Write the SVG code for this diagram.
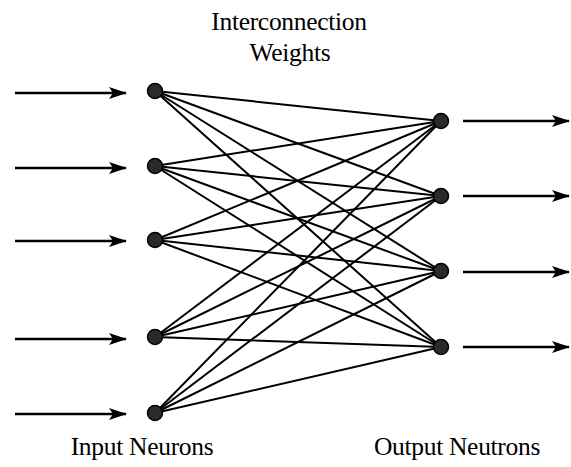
<svg xmlns="http://www.w3.org/2000/svg" width="571" height="467" viewBox="0 0 571 467">
<defs>
<style>
.lbl{font-family:"Liberation Serif","Times New Roman",serif;font-size:25.5px;fill:#000;letter-spacing:-0.3px}
.w{stroke:#000;stroke-width:2;fill:none}
.arr{stroke:#000;stroke-width:2.4;fill:none}
.n{fill:#2a2a2a;stroke:#000;stroke-width:1.5}
</style>
<marker id="ah" markerWidth="18" markerHeight="12" refX="17" refY="6" orient="auto" markerUnits="userSpaceOnUse">
<path d="M0,0 L18,6 L0,12 L4,6 Z" fill="#000"/>
</marker>
</defs>
<rect width="571" height="467" fill="#fff"/>
<g id="connectors">
<g class="w">
<line x1="155" y1="91" x2="441" y2="121"/><line x1="155" y1="91" x2="441" y2="196"/><line x1="155" y1="91" x2="441" y2="271"/><line x1="155" y1="91" x2="441" y2="347"/>
<line x1="155" y1="166" x2="441" y2="121"/><line x1="155" y1="166" x2="441" y2="196"/><line x1="155" y1="166" x2="441" y2="271"/><line x1="155" y1="166" x2="441" y2="347"/>
<line x1="155" y1="240" x2="441" y2="121"/><line x1="155" y1="240" x2="441" y2="196"/><line x1="155" y1="240" x2="441" y2="271"/><line x1="155" y1="240" x2="441" y2="347"/>
<line x1="155" y1="337" x2="441" y2="121"/><line x1="155" y1="337" x2="441" y2="196"/><line x1="155" y1="337" x2="441" y2="271"/><line x1="155" y1="337" x2="441" y2="347"/>
<line x1="155" y1="413" x2="441" y2="121"/><line x1="155" y1="413" x2="441" y2="196"/><line x1="155" y1="413" x2="441" y2="271"/><line x1="155" y1="413" x2="441" y2="347"/>
</g>
<g class="arr" marker-end="url(#ah)">
<line x1="15" y1="93" x2="126" y2="93"/>
<line x1="15" y1="168" x2="126" y2="168"/>
<line x1="15" y1="241" x2="126" y2="241"/>
<line x1="15" y1="339" x2="126" y2="339"/>
<line x1="15" y1="414" x2="126" y2="414"/>
<line x1="463" y1="121" x2="569" y2="121"/>
<line x1="463" y1="196" x2="569" y2="196"/>
<line x1="463" y1="272" x2="569" y2="272"/>
<line x1="463" y1="347" x2="569" y2="347"/>
</g>
</g>
<g id="in1"><circle class="n" cx="155" cy="91" r="7.5"/></g>
<g id="in2"><circle class="n" cx="155" cy="166" r="7.5"/></g>
<g id="in3"><circle class="n" cx="155" cy="240" r="7.5"/></g>
<g id="in4"><circle class="n" cx="155" cy="337" r="7.5"/></g>
<g id="in5"><circle class="n" cx="155" cy="413" r="7.5"/></g>
<g id="out1"><circle class="n" cx="441" cy="121" r="7.5"/></g>
<g id="out2"><circle class="n" cx="441" cy="196" r="7.5"/></g>
<g id="out3"><circle class="n" cx="441" cy="271" r="7.5"/></g>
<g id="out4"><circle class="n" cx="441" cy="347" r="7.5"/></g>
<g id="labels">
<text class="lbl" x="289" y="30" text-anchor="middle">Interconnection</text>
<text class="lbl" x="290" y="61" text-anchor="middle">Weights</text>
<text class="lbl" x="142" y="455" text-anchor="middle">Input Neurons</text>
<text class="lbl" x="457" y="455" text-anchor="middle">Output Neutrons</text>
</g>
</svg>
